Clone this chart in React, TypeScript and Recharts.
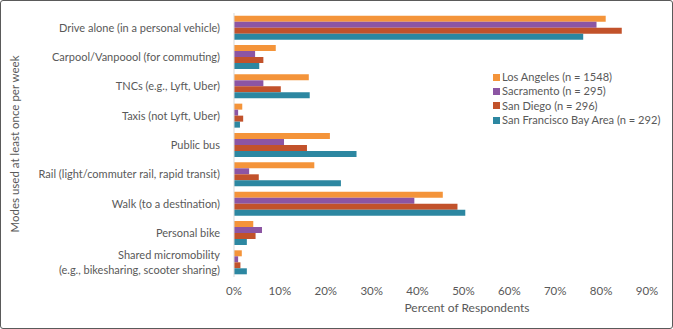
// @ts-nocheck
import { BarChart, Bar, XAxis, YAxis } from "recharts"

const modes = [
  "Drive alone (in a personal vehicle)",
  "Carpool/Vanpoool (for commuting)",
  "TNCs (e.g., Lyft, Uber)",
  "Taxis (not Lyft, Uber)",
  "Public bus",
  "Rail (light/commuter rail, rapid transit)",
  "Walk (to a destination)",
  "Personal bike",
  "Shared micromobility\n(e.g., bikesharing, scooter sharing)",
]

const losAngeles = [81.0, 9.1, 16.3, 1.8, 20.9, 17.5, 45.5, 4.2, 1.7]
const sacramento = [79.0, 4.6, 6.4, 0.9, 10.9, 3.3, 39.3, 6.1, 0.9]
const sanDiego = [84.5, 6.4, 10.2, 2.0, 15.9, 5.4, 48.7, 4.7, 1.4]
const sfBayArea = [76.1, 5.5, 16.5, 1.3, 26.7, 23.3, 50.4, 2.8, 2.8]

const xTicks = [0, 10, 20, 30, 40, 50, 60, 70, 80, 90]

const series = [
  { key: "la", name: "Los Angeles (n = 1548)", color: "#F4943A" },
  { key: "sac", name: "Sacramento (n = 295)", color: "#8C55A3" },
  { key: "sd", name: "San Diego (n = 296)", color: "#C2522B" },
  { key: "sf", name: "San Francisco Bay Area (n = 292)", color: "#2C87A1" },
]

const data = modes.map((m, i) => ({
  mode: m,
  la: losAngeles[i],
  sac: sacramento[i],
  sd: sanDiego[i],
  sf: sfBayArea[i],
}))

const FONT = "Lato, 'Open Sans', sans-serif"
const GRAY = "#595959"

function ModeTick({ x, y, payload }) {
  const lines = String(payload.value).split("\n")
  const lh = 15
  const start = -((lines.length - 1) * lh) / 2
  return (
    <text x={x} y={y} textAnchor="end" fill={GRAY} fontSize={11} fontFamily={FONT}>
      {lines.map((l, i) => (
        <tspan key={i} x={x} dy={i === 0 ? start + 4 : lh}>
          {l}
        </tspan>
      ))}
    </text>
  )
}

export default function App() {
  return (
    <div style={{ position: "absolute", left: 0, top: 0, width: 673, height: 329, background: "#fff" }}>
      <div
        style={{
          position: "absolute", left: 0, top: 0, width: 673, height: 329,
          boxSizing: "border-box", border: "1.5px solid #5a5a5a", borderRadius: 3,
          pointerEvents: "none",
        }}
      />
      <BarChart
        width={673}
        height={329}
        data={data}
        layout="vertical"
        margin={{ top: 13, right: 26, left: 0, bottom: 22 }}
        barCategoryGap="9%"
        barGap={0}
      >
        <XAxis
          type="number"
          domain={[0, 90]}
          ticks={xTicks}
          tickFormatter={(v) => `${v}%`}
          axisLine={false}
          tickLine={false}
          height={30}
          tick={{ fill: GRAY, fontSize: 11.5, fontFamily: FONT }}
          tickMargin={4}
          interval={0}
        />
        <YAxis
          type="category"
          dataKey="mode"
          width={234}
          axisLine={{ stroke: "#d9d9d9" }}
          tickLine={false}
          tick={<ModeTick />}
          tickMargin={8}
          interval={0}
        />
        {series.map((s) => (
          <Bar key={s.key} dataKey={s.key} name={s.name} fill={s.color} isAnimationActive={false} />
        ))}
      </BarChart>
      <div
        style={{
          position: "absolute", left: 493, top: 70, fontFamily: FONT, fontSize: 11.1,
          color: GRAY, lineHeight: "14.3px",
        }}
      >
        {series.map((s) => (
          <div key={s.key} style={{ display: "flex", alignItems: "center", whiteSpace: "nowrap" }}>
            <span style={{ width: 7, height: 7, background: s.color, marginRight: 2, display: "inline-block" }} />
            {s.name}
          </div>
        ))}
      </div>
      <div
        style={{
          position: "absolute", left: 0, width: 934, top: 300, textAlign: "center",
          fontFamily: FONT, fontSize: 12, color: GRAY,
        }}
      >
        Percent of Respondents
      </div>
      <div style={{ position: "absolute", left: 14, top: 144, width: 0, height: 0 }}>
        <div
          style={{
            position: "absolute", left: 0, top: 0, transform: "translate(-50%, -50%) rotate(-90deg)",
            whiteSpace: "nowrap", fontFamily: FONT, fontSize: 11.5, color: GRAY,
          }}
        >
          Modes used at least once per week
        </div>
      </div>
    </div>
  )
}
